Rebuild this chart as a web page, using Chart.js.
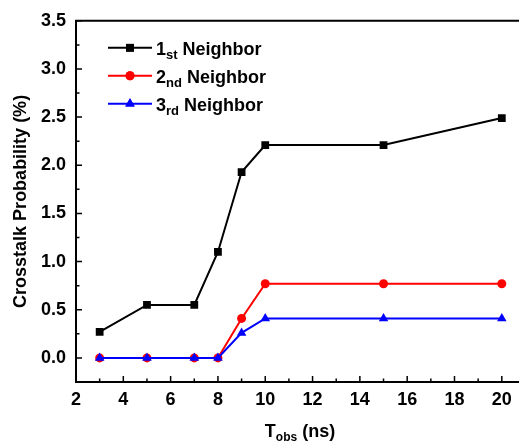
<!DOCTYPE html>
<html>
<head>
<meta charset="utf-8">
<script src="https://cdn.jsdelivr.net/npm/chart.js@4.4.1/dist/chart.umd.min.js"></script>
<style>
  html, body { margin: 0; padding: 0; background: #fff; overflow: hidden; }
  canvas { display: block; }
</style>
</head>
<body>
<canvas id="crosstalk-chart" width="526" height="445"></canvas>
<script>
const tObs = [3, 5, 7, 8, 9, 10, 15, 20];
const firstNeighbor = [0.27, 0.55, 0.55, 1.1, 1.93, 2.21, 2.21, 2.49];
const secondNeighbor = [0, 0, 0, 0, 0.41, 0.77, 0.77, 0.77];
const thirdNeighbor = [0, 0, 0, 0, 0.26, 0.41, 0.41, 0.41];

const xTicks = [2, 4, 6, 8, 10, 12, 14, 16, 18, 20];
const xMinorTicks = [3, 5, 7, 9, 11, 13, 15, 17, 19];
const yTicks = [0, 0.5, 1, 1.5, 2, 2.5, 3, 3.5];
const yMinorTicks = [0.25, 0.75, 1.25, 1.75, 2.25, 2.75, 3.25];

const legendNames = [['1', 'st'], ['2', 'nd'], ['3', 'rd']];

const FONT = '"Liberation Sans", Arial, sans-serif';
Chart.defaults.font.family = FONT;
Chart.defaults.font.size = 18;
Chart.defaults.font.weight = 'bold';
Chart.defaults.color = '#000';

const chartEl = document.getElementById('crosstalk-chart');

const pts = (ys) => tObs.map((x, i) => ({ x: x, y: ys[i] }));

// inward ticks, top frame, axis titles and the legend with subscripts
const decorations = {
  id: 'decorations',
  afterDraw(chart) {
    const ctx = chart.ctx;
    const a = chart.chartArea;
    const xs = chart.scales.x, ys = chart.scales.y;
    ctx.save();
    ctx.strokeStyle = '#000';
    ctx.lineWidth = 2;
    ctx.beginPath();
    ctx.moveTo(a.left - 1, a.top);
    ctx.lineTo(a.right + 1, a.top);
    ctx.stroke();

    ctx.lineWidth = 1.5;
    ctx.beginPath();
    xTicks.forEach(v => { const p = xs.getPixelForValue(v); ctx.moveTo(p, a.bottom); ctx.lineTo(p, a.bottom - 6); });
    xMinorTicks.forEach(v => { const p = xs.getPixelForValue(v); ctx.moveTo(p, a.bottom); ctx.lineTo(p, a.bottom - 3.5); });
    yTicks.forEach(v => { const p = ys.getPixelForValue(v); ctx.moveTo(a.left, p); ctx.lineTo(a.left + 6, p); });
    yMinorTicks.forEach(v => { const p = ys.getPixelForValue(v); ctx.moveTo(a.left, p); ctx.lineTo(a.left + 3.5, p); });
    ctx.stroke();

    // y title
    ctx.fillStyle = '#000';
    ctx.save();
    ctx.translate(21, (a.top + a.bottom) / 2);
    ctx.rotate(-Math.PI / 2);
    ctx.font = 'bold 18px ' + FONT;
    ctx.textAlign = 'center';
    ctx.textBaseline = 'middle';
    ctx.fillText('Crosstalk Probability (%)', 0, 0);
    ctx.restore();

    // x title: T_obs (ns)
    ctx.textBaseline = 'alphabetic';
    ctx.textAlign = 'left';
    const big = 'bold 18px ' + FONT, small = 'bold 12px ' + FONT;
    ctx.font = big; const wT = ctx.measureText('T').width; const wNs = ctx.measureText(' (ns)').width;
    ctx.font = small; const wSub = ctx.measureText('obs').width;
    const x0 = 300 - (wT + wSub + wNs) / 2;
    const base = 437;
    ctx.font = big; ctx.fillText('T', x0, base);
    ctx.font = small; ctx.fillText('obs', x0 + wT, base + 4);
    ctx.font = big; ctx.fillText(' (ns)', x0 + wT + wSub, base);

    // legend
    chart.data.datasets.forEach((ds, i) => {
      const ry = a.top + 27 + i * 28;
      ctx.strokeStyle = ds.borderColor;
      ctx.lineWidth = 2;
      ctx.beginPath();
      ctx.moveTo(a.left + 32, ry);
      ctx.lineTo(a.left + 76, ry);
      ctx.stroke();
      ctx.fillStyle = ds.pointBackgroundColor;
      Chart.helpers.drawPoint(ctx, { pointStyle: ds.pointStyle, radius: ds.pointRadius, borderWidth: 0 }, a.left + 54, ry);
      ctx.fill();
      ctx.fillStyle = '#000';
      const tx = a.left + 80;
      ctx.font = 'bold 18px ' + FONT;
      ctx.fillText(legendNames[i][0], tx, ry + 7);
      const w1 = ctx.measureText(legendNames[i][0]).width;
      ctx.font = 'bold 13px ' + FONT;
      ctx.fillText(legendNames[i][1], tx + w1, ry + 11);
      const w2 = ctx.measureText(legendNames[i][1]).width;
      ctx.font = 'bold 18px ' + FONT;
      ctx.fillText(' Neighbor', tx + w1 + w2, ry + 7);
    });
    ctx.restore();
  }
};

new Chart(chartEl, {
  type: 'line',
  data: {
    datasets: [
      { label: '1st Neighbor', data: pts(firstNeighbor), borderColor: '#000000', backgroundColor: '#000000',
        pointBackgroundColor: '#000000', pointStyle: 'rect', pointRadius: 5.5, order: 2 },
      { label: '2nd Neighbor', data: pts(secondNeighbor), borderColor: '#ff0000', backgroundColor: '#ff0000',
        pointBackgroundColor: '#ff0000', pointStyle: 'circle', pointRadius: 4.5, order: 1 },
      { label: '3rd Neighbor', data: pts(thirdNeighbor), borderColor: '#0000ff', backgroundColor: '#0000ff',
        pointBackgroundColor: '#0000ff', pointStyle: 'triangle', pointRadius: 5.5, order: 0 }
    ].map(d => Object.assign(d, { borderWidth: 2, pointBorderWidth: 0, pointHoverRadius: d.pointRadius, tension: 0 }))
  },
  options: {
    responsive: false,
    animation: false,
    layout: { padding: { left: 0, top: 20, right: 0, bottom: 0 } },
    plugins: { legend: { display: false }, tooltip: { enabled: false } },
    scales: {
      x: {
        type: 'linear', min: 2, max: 20.79,
        afterFit: s => { s.height = 63; },
        afterBuildTicks: s => { s.ticks = xTicks.map(v => ({ value: v })); },
        grid: { display: false, drawTicks: false },
        border: { display: true, color: '#000', width: 2 },
        ticks: { color: '#000', padding: 7, maxRotation: 0, autoSkip: false, font: { family: FONT, size: 18, weight: 'bold' } }
      },
      y: {
        type: 'linear', min: -0.25, max: 3.5,
        afterFit: s => { s.width = 76; },
        afterBuildTicks: s => { s.ticks = yTicks.map(v => ({ value: v })); },
        grid: { display: false, drawTicks: false },
        border: { display: true, color: '#000', width: 2 },
        ticks: { color: '#000', padding: 10, font: { family: FONT, size: 18, weight: 'bold' },
          callback: v => v.toFixed(1) }
      }
    }
  },
  plugins: [decorations]
});
</script>
</body>
</html>
